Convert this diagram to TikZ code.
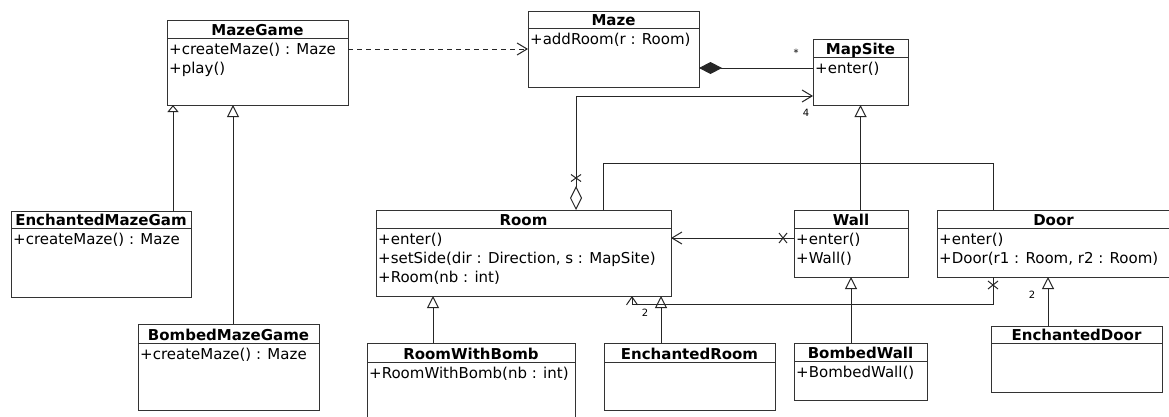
\documentclass[tikz,border=0pt]{standalone}
\usepackage{fontspec}
\setmainfont{DejaVu Sans}
\usetikzlibrary{arrows.meta}
\tikzset{
 clsbox/.style={draw=black!80, line width=1pt, inner sep=0pt, outer sep=0pt},
 clsline/.style={draw=black!80, line width=1pt},
 clstitle/.style={font=\bfseries\fontsize{15}{18}\selectfont, inner sep=0pt},
 clsop/.style={font=\fontsize{15}{18}\selectfont, inner sep=0pt, anchor=base west},
 conn/.style={draw=black!85, line width=1pt},
 inh/.style={conn, -{Triangle[open, length=12pt, width=12pt]}},
 inhsmall/.style={conn, -{Triangle[open, length=7pt, width=11pt]}},
 nav/.style={conn, -{Straight Barb[length=10pt, width=12pt]}},
 navsmall/.style={conn, -{Straight Barb[length=8pt, width=11pt]}},
 dep/.style={nav, dash pattern=on 5pt off 4pt},
 comp/.style={conn, {Diamond[length=23pt,width=12pt]}-},
 aggr/.style={conn, {Diamond[open,length=24pt,width=12pt]}-{Straight Barb[length=10pt,width=12pt]}},
 mult/.style={font=\fontsize{10}{12}\selectfont, inner sep=0pt},
 xmk/.style={draw=black!85, line width=1pt},
}
\newcommand\umlcls[7]{%
  \node[clsbox, minimum width=#4-#2, minimum height=#5-#3, anchor=north west] (#1) at (#2,#3) {};
  \draw[clsline] (#2,#6) -- (#4,#6);
  \node[clstitle, anchor=base] (#1-t) at ({(#2+#4)/2},{#6-3}) {#7};
}
\newcommand\umlops[4]{%
  \foreach \t [count=\i] in {#4} {\node[clsop] (#1-\i) at ({#2+2},{#3+16.5+19*(\i-1)}) {\t};}%
}
\begin{document}
\begin{tikzpicture}[x=1pt,y=-1pt]
\fill[white] (0,0) rectangle (1169,416);
\useasboundingbox (0,0) rectangle (1169,416);

\umlcls{mazegame}{167}{20}{348}{105}{38}{MazeGame}
\umlops{mazegame}{167}{38}{{+createMaze() : Maze},{+play()}}
\umlcls{maze}{528}{11}{699}{87}{28}{Maze}
\umlops{maze}{528}{28}{{+addRoom(r : Room)}}
\umlcls{mapsite}{813}{39}{908}{105}{57}{MapSite}
\umlops{mapsite}{813}{57}{{+enter()}}
\umlcls{enchmg}{11}{211}{191}{297}{228}{EnchantedMazeGam}
\umlops{enchmg}{11}{228}{{+createMaze() : Maze}}
\umlcls{bombedmg}{138}{324}{319}{410}{343}{BombedMazeGame}
\umlops{bombedmg}{138}{343}{{+createMaze() : Maze}}
\umlcls{room}{376}{210}{671}{296}{228}{Room}
\umlops{room}{376}{228}{{+enter()},{+setSide(dir : Direction, s : MapSite)},{+Room(nb : int)}}
\umlcls{wall}{794}{210}{908}{277}{228}{Wall}
\umlops{wall}{794}{228}{{+enter()},{+Wall()}}
\umlcls{door}{937}{210}{1170}{277}{228}{Door}
\umlops{door}{937}{228}{{+enter()},{+Door(r1 : Room, r2 : Room)}}
\umlcls{roomwb}{367}{343}{575}{425}{362}{RoomWithBomb}
\umlops{roomwb}{367}{362}{{+RoomWithBomb(nb : int)}}
\umlcls{enchroom}{604}{343}{775}{410}{362}{EnchantedRoom}
\umlcls{bombedwall}{794}{343}{927}{400}{361}{BombedWall}
\umlops{bombedwall}{794}{361}{{+BombedWall()}}
\umlcls{enchdoor}{991}{326}{1162}{392}{343}{EnchantedDoor}

% dependency MazeGame -> Maze
\draw[dep] (mazegame.east |- maze.west) -- (maze.west);
% composition Maze <>-- MapSite
\coordinate (c1) at ([yshift=-57pt]maze.north east);
\draw[comp] (c1) -- (c1 -| mapsite.west);
\node[mult] (mstar) at (796,53) {*};
% aggregation Room -> MapSite
\coordinate (ag1) at ([xshift=200pt]room.north west);
\coordinate (ag2) at ([yshift=-57pt]mapsite.north west);
\draw[aggr] (ag1) |- (ag2);
\node[mult] (m4) at (806,113) {4};
\draw[xmk] (571,174.5) -- (581,181.5) (571,181.5) -- (581,174.5);
% Room -- Door
\coordinate (rd1) at ([xshift=227pt]room.north west);
\coordinate (rd2) at ([xshift=56pt]door.north west);
\draw[conn] (rd1) -- ++(0,-47) -| (rd2);
% Wall -> MapSite
\draw[inh] (mapsite.south |- wall.north) -- (mapsite.south);
% Wall -> Room
\coordinate (wr) at ([yshift=-28pt]wall.north west);
\draw[nav] (wr) -- (wr -| room.east);
\draw[xmk] (779,233) -- (787,243) (779,243) -- (787,233);
% Door -> Room
\coordinate (dr) at ([xshift=56pt]door.south west);
\coordinate (rr) at ([xshift=256pt]room.south west);
\draw[navsmall] (dr) -- ++(0,27) -| (rr);
\draw[xmk] (988,281) -- (998,289) (988,289) -- (998,281);
\node[mult] (m2a) at (645,313) {2};
\node[mult] (m2b) at (1032,295) {2};
% generalizations
\coordinate (e1) at ([xshift=162pt]enchmg.north west);
\draw[inhsmall] (e1) -- (e1 |- mazegame.south);
\coordinate (e2) at ([xshift=95pt]bombedmg.north west);
\draw[inh] (e2) -- (e2 |- mazegame.south);
\coordinate (e3) at ([xshift=66pt]roomwb.north west);
\draw[inh] (e3) -- (e3 |- room.south);
\coordinate (e4) at ([xshift=57pt]enchroom.north west);
\draw[inh] (e4) -- (e4 |- room.south);
\draw[inh] (bombedwall.north -| wall.south) -- (wall.south);
\coordinate (e5) at ([xshift=57pt]enchdoor.north west);
\draw[inh] (e5) -- (e5 |- door.south);
\end{tikzpicture}
\end{document}
